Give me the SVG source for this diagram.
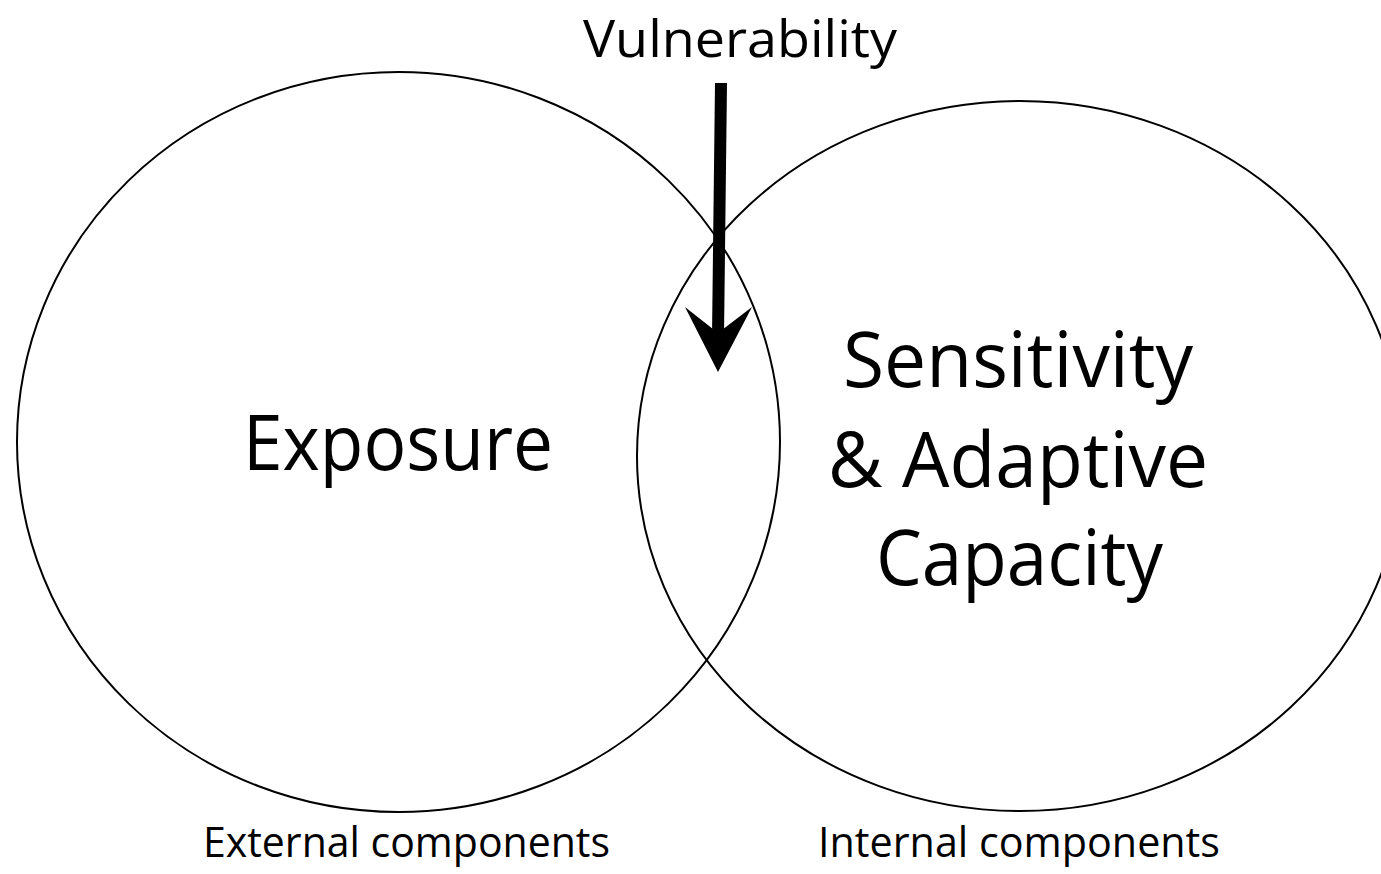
<svg xmlns="http://www.w3.org/2000/svg" width="1381" height="874" viewBox="0 0 1381 874">
<style>
.ring{fill:none;stroke:#000;stroke-width:2}
.t{font-family:"Open Sans","Noto Sans","Liberation Sans",sans-serif;fill:#000}
.big{font-size:76px}
.mid{font-size:52px}
.small{font-size:42px}
</style>
<rect width="1381" height="874" fill="#fff"/>
<g id="exposure">
<ellipse class="ring" cx="398.5" cy="442" rx="381.5" ry="370"/>
<text class="t big" x="243" y="470" textLength="310" lengthAdjust="spacingAndGlyphs">Exposure</text>
<text class="t small" x="203" y="857" textLength="407" lengthAdjust="spacingAndGlyphs">External components</text>
</g>
<g id="sensitivity">
<ellipse class="ring" cx="1020" cy="456" rx="383" ry="355"/>
<text class="t big" x="843" y="387" textLength="350" lengthAdjust="spacingAndGlyphs">Sensitivity</text>
<text class="t big" x="828" y="487" textLength="380" lengthAdjust="spacingAndGlyphs">&amp; Adaptive</text>
<text class="t big" x="876" y="585" textLength="287" lengthAdjust="spacingAndGlyphs">Capacity</text>
<text class="t small" x="818" y="857" textLength="402" lengthAdjust="spacingAndGlyphs">Internal components</text>
</g>
<g id="vulnerability">
<text class="t mid" x="583" y="57" textLength="314" lengthAdjust="spacingAndGlyphs">Vulnerability</text>
</g>
<g id="connectors">
<line x1="721" y1="83" x2="718" y2="336" stroke="#000" stroke-width="12"/>
<path d="M685,307 L718,372 L752,307 L718,333 Z" fill="#000"/>
</g>
</svg>
